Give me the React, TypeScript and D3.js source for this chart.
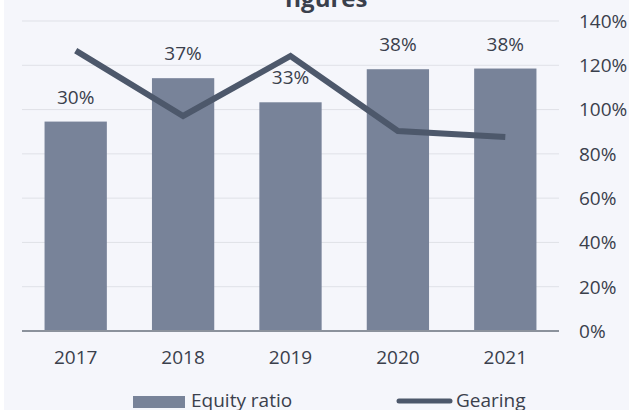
import React from "react";
import * as d3 from "d3";

const years = ["2017", "2018", "2019", "2020", "2021"];
const equityRatio = [30.4, 36.7, 33.2, 38.0, 38.1];
const gearing = [126.6, 97.1, 124.2, 90.3, 87.6];
const rightTicks = [0, 20, 40, 60, 80, 100, 120, 140];

const W = 629;
const H = 410;
const FONT = "'Open Sans', Lato, sans-serif";
const TEXT = "#3a404c";
const FS = 19;

export default function App() {
  const x = d3
    .scaleBand<string>()
    .domain(years)
    .range([22, 559])
    .paddingInner(0.42)
    .paddingOuter(0.21);
  const yLeft = d3.scaleLinear().domain([0, 45]).range([331, 21]);
  const yRight = d3.scaleLinear().domain([0, 140]).range([331, 21]);
  const line = d3
    .line<number>()
    .x((_, i) => (x(years[i]) as number) + x.bandwidth() / 2)
    .y((d) => yRight(d));

  return (
    <svg
      width={W}
      height={H}
      style={{ position: "absolute", left: 0, top: 0, background: "#f5f6fb" }}
      fontFamily={FONT}
    >
      <rect x={0} y={0} width={4} height={H} fill="#ffffff" />
      <text x={326} y={7} textAnchor="middle" fontSize={24} fontWeight={700} fill={TEXT}>
        figures
      </text>
      {rightTicks.map((t) => (
        <g key={t}>
          {t > 0 && (
            <line x1={22} x2={559} y1={yRight(t)} y2={yRight(t)} stroke="#dfe1e7" strokeWidth={1} />
          )}
          <text x={579} y={yRight(t)} dy="0.36em" fontSize={FS} fill={TEXT}>
            {t}%
          </text>
        </g>
      ))}
      {years.map((yr, i) => (
        <g key={yr}>
          <rect
            x={x(yr)}
            y={yLeft(equityRatio[i])}
            width={x.bandwidth()}
            height={yLeft(0) - yLeft(equityRatio[i])}
            fill="#788399"
          />
          <text
            x={(x(yr) as number) + x.bandwidth() / 2}
            y={yLeft(equityRatio[i]) - 18}
            textAnchor="middle"
            fontSize={FS}
            fill={TEXT}
          >
            {Math.round(equityRatio[i])}%
          </text>
          <text
            x={(x(yr) as number) + x.bandwidth() / 2}
            y={364}
            textAnchor="middle"
            fontSize={FS}
            fill={TEXT}
          >
            {yr}
          </text>
        </g>
      ))}
      <line x1={22} x2={559} y1={331} y2={331} stroke="#8b929c" strokeWidth={2} />
      <path d={line(gearing) || ""} fill="none" stroke="#4d586b" strokeWidth={6} strokeLinejoin="miter" />
      <rect x={133} y={396} width={52} height={12} fill="#788399" />
      <text x={191} y={407} fontSize={FS} fill={TEXT}>
        Equity ratio
      </text>
      <line x1={399} x2={450} y1={401} y2={401} stroke="#4d586b" strokeWidth={5} strokeLinecap="round" />
      <text x={456} y={407} fontSize={FS} fill={TEXT}>
        Gearing
      </text>
    </svg>
  );
}
